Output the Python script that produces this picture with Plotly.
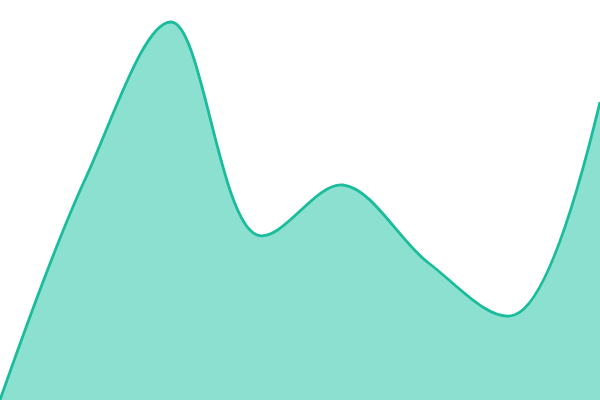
import plotly.graph_objects as go

points = [0, 1, 2, 3, 4, 5, 6, 7]
values = [0, 222, 378, 165, 215, 137, 85, 298]

fig = go.Figure(go.Scatter(
    x=points,
    y=values,
    mode="lines",
    line=dict(color="#1abc9c", width=2.8, shape="spline", smoothing=1),
    fill="tozeroy",
    fillcolor="#8be0cf",
    hoverinfo="skip",
))

fig.update_layout(
    width=600,
    height=400,
    margin=dict(l=0, r=0, t=0, b=0),
    paper_bgcolor="white",
    plot_bgcolor="white",
    showlegend=False,
    xaxis=dict(visible=False, range=[0, 7], fixedrange=True),
    yaxis=dict(visible=False, range=[0, 400], fixedrange=True),
)

# page body has a default 8px margin, drop it so the plot fills the window
fig.write_html("out.html", config={"displayModeBar": False},
               post_script="document.body.style.margin='0';document.body.style.overflow='hidden';")
